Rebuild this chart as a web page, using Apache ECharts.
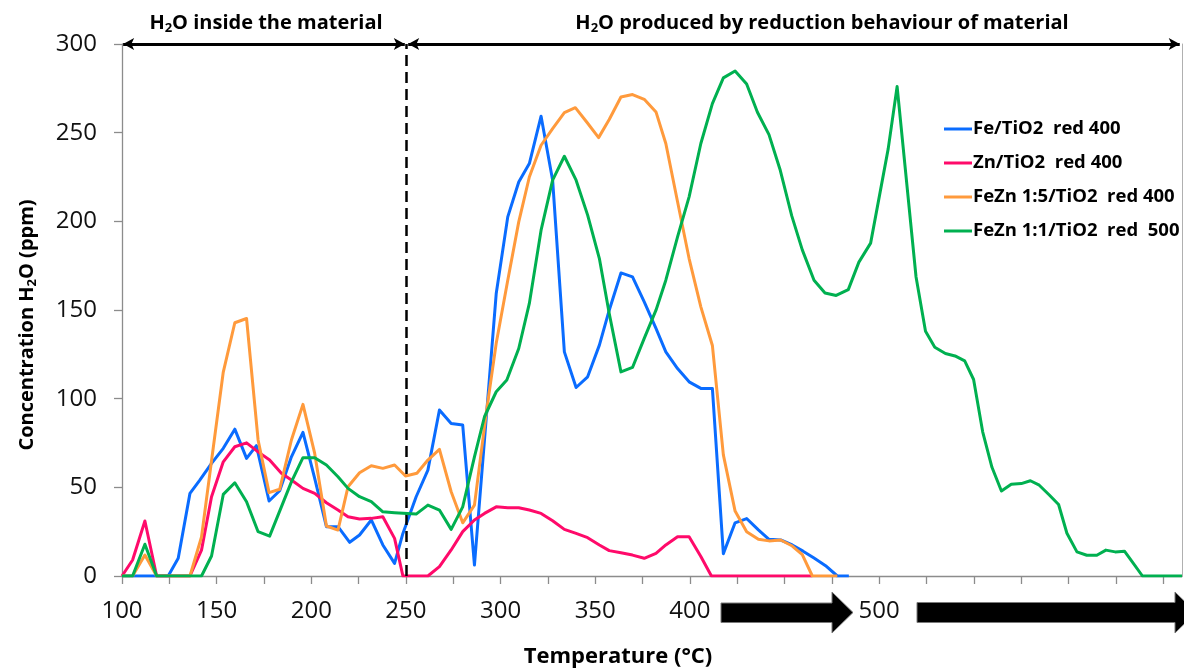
<!DOCTYPE html>
<html>
<head>
<meta charset="utf-8">
<script src="https://cdn.jsdelivr.net/npm/echarts@6/dist/echarts.min.js"></script>
<style>
html,body{margin:0;padding:0;background:#fff;}
#chart{width:1184px;height:669px;}
</style>
</head>
<body>
<div id="chart"></div>
<script>
// ---- Data (temperature °C / concentration ppm) ----
const seriesNames = ['Fe/TiO2  red 400', 'Zn/TiO2  red 400', 'FeZn 1:5/TiO2  red 400', 'FeZn 1:1/TiO2  red  500'];
const seriesColors = ['#0a6cff', '#ff0a6a', '#ff9a3c', '#00b050'];

const tempFe = [100,105.6,112.1,118.3,124.4,129.7,135.9,141.1,147.3,153.5,159.6,165.8,171,177.7,183.3,189.5,195.6,201.8,208,214.1,220.3,225.5,231.7,237.8,244,248.4,255.4,261.6,267.7,273.9,280,286.2,297.7,303.8,309.6,315.2,321.4,327.5,333.7,339.9,346,352.2,357.4,363.6,369.7,375.9,382.1,387.3,393.5,399.6,405.8,411.9,417.7,423.9,430,436.2,441.8,448,454.1,459.8,465.6,471.7,477.9,484];
const concFe = [0,0,0,0,0,10,46.6,54.1,63.5,72,82.8,66.3,73.5,42.3,48.1,67.2,81,55,27.8,27.8,19,23.1,31.6,17.5,7.1,24,44.7,59.7,93.6,86,85.1,6.2,159.3,202.5,222.2,232.6,259.3,223.2,126.4,106.3,112.3,130.2,149.9,170.9,168.7,154.6,139.6,126.4,117,109.5,105.8,105.8,12.6,30,32.4,26,20.7,20.3,17.5,14,10.1,5.8,0,0];

const tempZn = [100,105.6,112.1,118.3,124.4,129.7,135.9,142,147.3,153.5,159.6,165.8,171.9,178,184.2,189.5,195.6,201.8,208,214.1,219.4,225.5,231.7,237.8,244,248.4,255.4,261.6,267.7,273.9,280,286.2,291.5,297.7,303.8,309.6,315.2,321.4,327.5,333.7,339.9,346,352.2,357.4,363.6,369.7,375.9,382.1,387.3,393.5,399.6,405.8,411.4,417.7,430,441.8,454.1,464.7];
const concZn = [0,9,31,0,0,0,0,14.6,44.7,64.4,72.9,75.1,70,65.4,57.9,54.1,49.4,46.6,41.3,37.2,33.4,32.1,32.5,33.4,21.2,0,0,0,5.3,14.7,25,31.6,35.3,39,38.5,38.5,37.2,35.3,31.2,26.3,24,21.6,17.5,14.3,13.1,11.8,10,12.8,17.5,22.1,22.1,11,0,0,0,0,0,0];

const tempFeZn15 = [100,105.6,112.1,118.3,124.4,129.7,135.9,142,147.3,153.5,159.6,165.8,171.9,177.7,183.3,189.5,195.6,201.8,208,214.1,219.4,225.5,231.7,237.8,244,249.8,255.8,261.6,267.7,273.9,280,286.2,292.4,297.7,303.8,309.6,315.2,321.4,327.5,333.7,339.5,345.5,351.8,357.4,363.6,369.7,375.9,382.1,387.3,393.5,399.6,405.8,411.9,417.7,423.9,430,436.2,441.8,448,454.1,459.4,464.7,471.7,477.9];
const concFeZn15 = [0,0,11.8,0,0,0,0,22,65,115,142.8,145.2,76.7,47,48.9,76.7,96.8,69.1,28.2,25.9,50.3,58.2,62.2,60.7,62.6,56.4,57.9,65.4,71.4,47.5,30,40,91.7,131.2,166.8,199.7,225,242.9,252.3,261.3,264.1,256,247.2,257.4,270.1,271.5,268.8,261.7,243.9,211,179,151.8,130,68.3,36.6,25,20.7,19.8,20.3,16.9,12,0,0,0];

const tempFeZn11 = [100,105.6,112.1,118.3,124.4,129.7,135.9,142,147.3,153.5,159.6,165.8,171.9,178,184.2,189.5,195.6,201.8,208,214.1,219.4,225.5,231.7,237.8,244,255.4,261.6,267.7,273.9,280,286.2,291.5,297.7,303.3,309.6,315.2,321.4,327.5,333.7,339.9,346,352.2,357.4,363.6,369.7,375.9,382.1,387.3,393.5,399.6,405.8,411.9,417.7,423.9,430,435.7,441.8,447.6,453.8,459.4,465.6,471.4,477.3,483.7,489.3,495.5,504.8,509.5,519.5,524.5,529.4,535,540.1,545.2,549.9,554.7,559.6,564.6,569.8,575.1,579.9,584.6,589.9,594.8,599.2,604.5,609.7,615,619.8,624.7,629.6,634.4,639.1,660];
const concFeZn11 = [0,0,17.9,0,0,0,0,0,11.3,46,52.6,41.9,25,22.5,39,53.1,66.7,66.7,62.6,56,49.4,44.7,41.9,36.2,35.7,34.9,40,37.2,26.3,39,67.2,89.8,103.9,110.5,128.3,153.7,195,223.2,236.7,223.2,203.5,179,148,115.1,117.6,134,149.9,166.8,191.2,213.8,243.9,266.4,280.9,284.8,277.4,261.5,248.9,229.4,203.2,183.9,166.8,159.6,158.2,161.5,177,187.7,241,276,168.6,138,129,125.5,124.1,121.3,110.8,81.3,61.3,47.9,51.7,52.1,53.7,51.2,45.7,40.3,24.1,13.6,11.7,11.7,14.6,13.6,14,7,0,0];

// ---- Axis ticks ----
const xLabelValues = [100,150,200,250,300,350,400,500];
const xTickValues = [100,125,150,175,200,225,250,275,300,325,350,375,400,425,450,475,500,525,550,575,600,625,650];
const xMin = 100, xMax = 660, xStep = 25;
const yMin = 0, yMax = 300, yStep = 50;
const boundaryTemp = 250;

const tempArrays = [tempFe, tempZn, tempFeZn15, tempFeZn11];
const concArrays = [concFe, concZn, concFeZn15, concFeZn11];

const FONT = '"Open Sans", "Liberation Sans", sans-serif';
const chart = echarts.init(document.getElementById('chart'), null, {renderer: 'canvas'});

const series = seriesNames.map((name, i) => ({
  name: name,
  type: 'line',
  data: tempArrays[i].map((t, k) => [t, concArrays[i][k]]),
  showSymbol: false,
  symbol: 'none',
  lineStyle: {color: seriesColors[i], width: 3, join: 'round'},
  itemStyle: {color: seriesColors[i]},
  animation: false,
  z: 2 + i
}));

// annotation lines (dashed boundary + top double arrows)
series.push({
  type: 'line',
  data: [],
  silent: true,
  animation: false,
  markLine: {
    silent: true,
    animation: false,
    symbol: ['none', 'none'],
    label: {show: false},
    lineStyle: {color: '#000', type: [11, 6], width: 2.5},
    data: [{xAxis: boundaryTemp}]
  }
});
series.push({
  type: 'line',
  data: [],
  silent: true,
  animation: false,
  markLine: {
    silent: true,
    animation: false,
    symbol: ['arrow', 'arrow'],
    symbolSize: [9, 11],
    label: {show: false},
    lineStyle: {color: '#000', type: 'solid', width: 3},
    data: [
      [{coord: [xMin + 0.6, yMax]}, {coord: [boundaryTemp - 0.6, yMax]}],
      [{coord: [boundaryTemp + 1.2, yMax]}, {coord: [xMax - 1.2, yMax]}]
    ]
  }
});

const subRich = {
  b: {fontFamily: FONT, fontWeight: 'bold', fontSize: 20, color: '#000', lineHeight: 24},
  s: {fontFamily: FONT, fontWeight: 'bold', fontSize: 13, color: '#000', lineHeight: 13, verticalAlign: 'bottom'}
};
const yRich = {
  b: {fontFamily: FONT, fontWeight: 'bold', fontSize: 20, color: '#000', lineHeight: 24},
  s: {fontFamily: FONT, fontWeight: 'bold', fontSize: 13, color: '#000', lineHeight: 13, verticalAlign: 'bottom'}
};

const option = {
  backgroundColor: '#fff',
  animation: false,
  grid: {left: 122, right: 2, top: 44, bottom: 93, containLabel: false},
  xAxis: {
    type: 'value',
    min: xMin, max: xMax, interval: xStep,
    axisLine: {show: true, lineStyle: {color: '#8c8c8c', width: 1.3}},
    axisTick: {show: true, inside: false, length: 8, lineStyle: {color: '#8c8c8c', width: 1.3}, customValues: xTickValues},
    axisLabel: {show: true, margin: 23, fontSize: 24, fontFamily: FONT, color: '#111', customValues: xLabelValues},
    splitLine: {show: false}
  },
  yAxis: [{
    type: 'value',
    min: yMin, max: yMax, interval: yStep,
    axisLine: {show: true, lineStyle: {color: '#8c8c8c', width: 1.3}},
    axisTick: {show: true, inside: false, length: 8, lineStyle: {color: '#8c8c8c', width: 1.3}},
    axisLabel: {show: true, margin: 25, fontSize: 24, fontFamily: FONT, color: '#111'},
    splitLine: {show: false}
  }, {
    type: 'value',
    position: 'right',
    min: yMin, max: yMax, interval: yStep,
    axisLine: {show: true, lineStyle: {color: '#b0b0b0', width: 1}},
    axisTick: {show: false},
    axisLabel: {show: false},
    splitLine: {show: false}
  }],
  legend: {
    orient: 'vertical',
    left: 939,
    top: 114,
    itemWidth: 28,
    itemHeight: 3,
    itemGap: 14,
    icon: 'rect',
    data: seriesNames,
    textStyle: {fontFamily: FONT, fontWeight: 'bold', fontSize: 18.5, color: '#000', lineHeight: 20, padding: [0, 0, 0, -4]}
  },
  graphic: [
    {type: 'text', x: 266, y: 23, silent: true,
      style: {text: '{b|H}{s|2}{b|O inside the material}', rich: subRich, align: 'center', verticalAlign: 'middle'}},
    {type: 'text', x: 822, y: 23, silent: true,
      style: {text: '{b|H}{s|2}{b|O produced by reduction behaviour of material}', rich: subRich, align: 'center', verticalAlign: 'middle'}},
    {type: 'text', x: 27, y: 325, rotation: Math.PI / 2, silent: true,
      style: {text: '{b|Concentration H}{s|2}{b|O (ppm)}', rich: yRich, align: 'center', verticalAlign: 'middle'}},
    {type: 'text', x: 618, y: 657, silent: true,
      style: {text: 'Temperature (°C)', fontFamily: FONT, fontWeight: 'bold', fontSize: 22, fill: '#000', align: 'center', verticalAlign: 'middle'}},
    {type: 'polygon', silent: true,
      shape: {points: [[721, 603], [832, 603], [832, 592], [853, 612.5], [832, 633], [832, 622.5], [721, 622.5]]},
      style: {fill: '#000', stroke: '#7a7a7a', lineWidth: 1}},
    {type: 'polygon', silent: true,
      shape: {points: [[917, 602.5], [1175, 602.5], [1175, 592], [1196, 612.5], [1175, 633], [1175, 622.5], [917, 622.5]]},
      style: {fill: '#000', stroke: '#7a7a7a', lineWidth: 1}}
  ],
  series: series
};
chart.setOption(option);
</script>
</body>
</html>
